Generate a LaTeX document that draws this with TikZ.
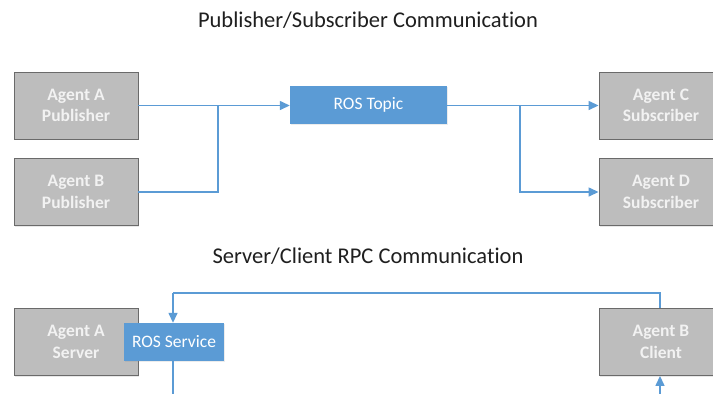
\documentclass[tikz,border=0pt]{standalone}
\usepackage{fontspec}
\setmainfont[Ligatures=NoCommon]{Carlito}
\usetikzlibrary{arrows.meta,shadows}
\definecolor{boxgray}{HTML}{BDBDBD}
\definecolor{boxedge}{HTML}{6A6A6A}
\definecolor{rosblue}{HTML}{5B9BD5}
\definecolor{boxtext}{HTML}{F2F2F2}
\tikzset{
  agent/.style={draw=boxedge, line width=0.9pt, fill=boxgray, minimum width=124pt, minimum height=67pt,
    inner sep=0pt, align=center, text=boxtext, font=\fontsize{17.5}{21.5}\selectfont\bfseries,
    drop shadow={opacity=0.18, shadow xshift=1pt, shadow yshift=-1.2pt}},
  rosbox/.style={fill=rosblue, draw=none, inner sep=0pt, minimum height=38pt, text=white,
    font=\fontsize{17.5}{21}\selectfont,
    drop shadow={opacity=0.15, shadow xshift=1pt, shadow yshift=-1.2pt}},
  title/.style={font=\fontsize{22.5}{26}\selectfont, text=black!88},
  link/.style={draw=rosblue, line width=1.4pt},
  arr/.style={link, -{Triangle[length=10pt, width=9pt]}},
}
\begin{document}
\begin{tikzpicture}[x=1pt, y=-1pt]
\useasboundingbox (0,0) rectangle (713,394);
\clip (0,0) rectangle (713,394);
\fill[white] (0,0) rectangle (713,394);
% titles
\node[title] (t1) at (368,20) {Publisher/Subscriber Communication};
\node[title] (t2) at (368,256) {Server/Client RPC Communication};
% top section
\node[agent] (apub) at (76,105.5) {Agent A\\Publisher};
\node[agent] (bpub) at (76,192) {Agent B\\Publisher};
\node[rosbox, minimum width=157pt] (topic) at (368.5,105) {ROS Topic};
\node[agent] (csub) at (661,105.5) {Agent C\\Subscriber};
\node[agent] (dsub) at (661,192) {Agent D\\Subscriber};
\coordinate (jl) at (218,105.5);
\coordinate (jr) at (520,105.5);
\draw[arr] (apub.east) -- (topic.west |- apub.east);
\draw[link] (bpub.east) -| (jl);
\draw[arr] (topic.east |- csub.west) -- (csub.west);
\draw[arr] (jr) |- (dsub.west);
% bottom section
\node[agent] (aserv) at (76,342) {Agent A\\Server};
\node[rosbox, minimum width=100pt] (service) at (174,342) {ROS Service};
\node[agent] (bcli) at (661,342) {Agent B\\Client};
\coordinate (topr) at (660,293);
\coordinate (topl) at (173,293);
\coordinate (servdown) at (173,400);
\coordinate (cliup) at (660,400);
\draw[link] (bcli.north -| topr) -- (topr) -- (topl);
\draw[arr] (topl) -- (topl |- service.north);
\draw[link] (topl |- service.south) -- (servdown);
\draw[arr] (cliup) -- (cliup |- bcli.south);
\end{tikzpicture}
\end{document}
